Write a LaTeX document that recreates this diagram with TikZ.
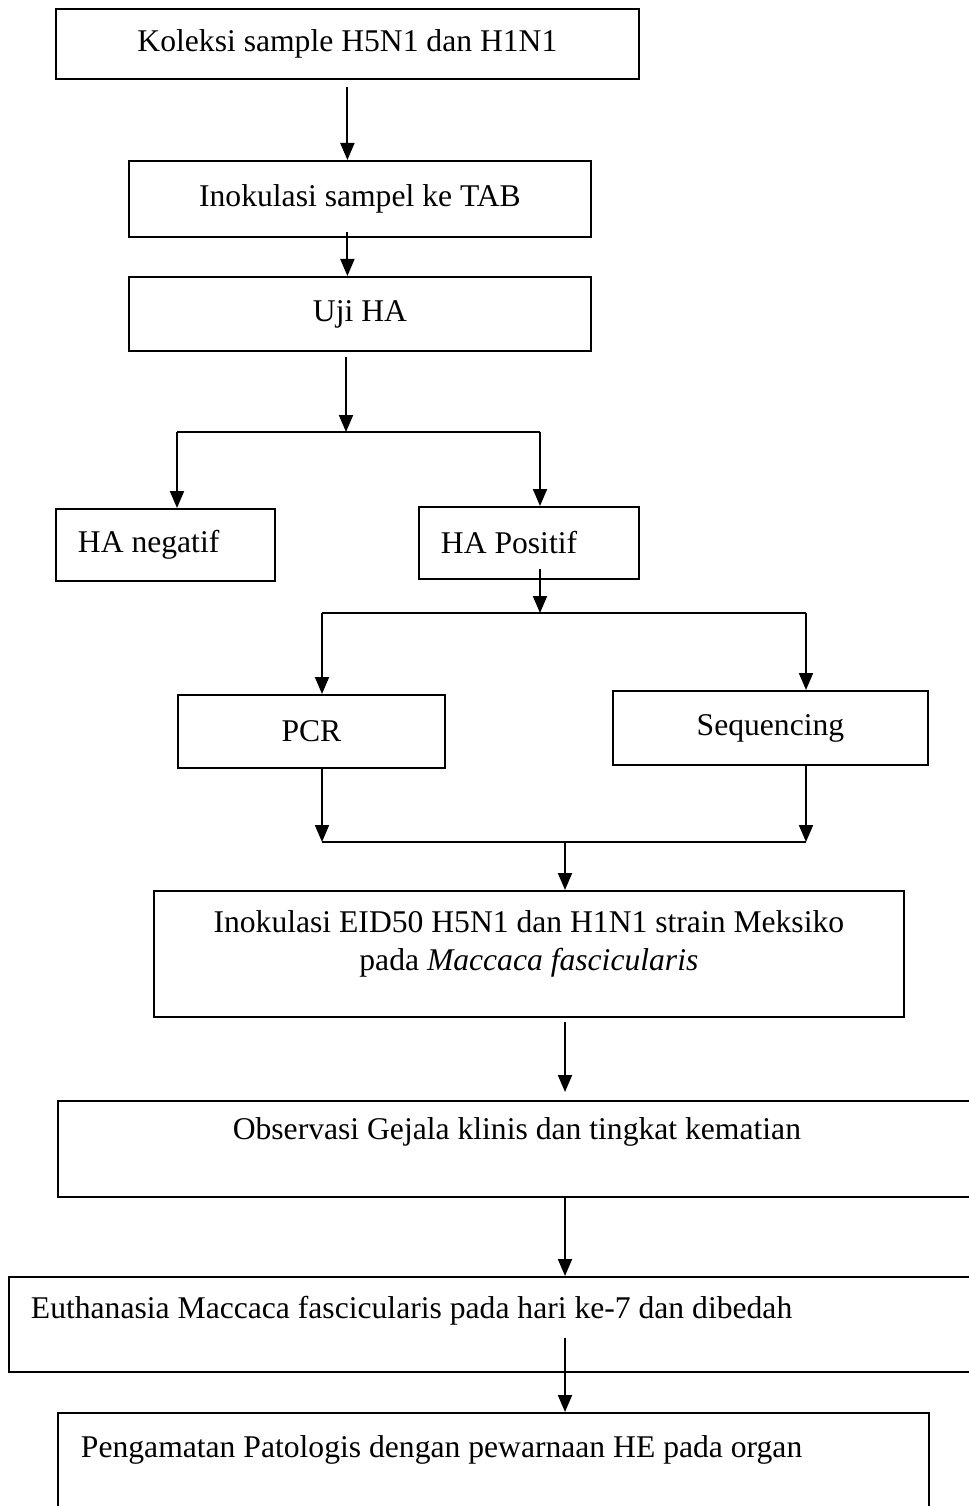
\documentclass[tikz,border=0pt]{standalone}
\usepackage{fontspec}
\setmainfont{Liberation Serif}
\usetikzlibrary{arrows.meta}
\begin{document}
\begin{tikzpicture}[
  x=0.02cm, y=-0.02cm,
  block/.style={rectangle, draw, line width=1.1pt, anchor=north west, inner sep=0pt, font=\fontsize{18}{21.6}\selectfont},
  >={Triangle[length=0.34cm, width=0.28cm]},
  line width=1.1pt
]
\useasboundingbox (0,0) rectangle (969,1506);

\node[block, minimum width=11.66cm, minimum height=1.4cm] (koleksi) at (55,8) {Koleksi sample H5N1 dan H1N1};
\node[block, minimum width=9.24cm, minimum height=1.52cm] (tab) at (128,160) {Inokulasi sampel ke TAB};
\node[block, minimum width=9.24cm, minimum height=1.48cm] (uji) at (128,276) {Uji HA};
\node[block, minimum width=4.38cm, minimum height=1.44cm, inner xsep=0.44cm, text width=3.5cm, align=flush left] (neg) at (55,508) {HA negatif};
\node[block, minimum width=4.4cm, minimum height=1.44cm, inner xsep=0.44cm, text width=3.52cm, align=flush left] (pos) at (418,506) {HA Positif};
\node[block, minimum width=5.34cm, minimum height=1.46cm] (pcr) at (177,694) {PCR};
\node[block, minimum width=6.3cm, minimum height=1.48cm] (seq) at (612,690) {Sequencing};
\node[block, text width=15cm, align=flush center, text height=0.84cm, text depth=1.68cm] (eid) at (153,890) {Inokulasi EID50 H5N1 dan H1N1 strain Meksiko\\pada \textit{Maccaca fascicularis}};
\node[block, text width=18.36cm, align=flush center, text height=0.78cm, text depth=1.14cm] (obs) at (57,1100) {Observasi Gejala klinis dan tingkat kematian};
\node[block, inner xsep=0.44cm, text width=18.72cm, align=flush left, text height=0.84cm, text depth=1.06cm] (eut) at (8,1276) {Euthanasia Maccaca fascicularis pada hari ke-7 dan dibedah};
\node[block, inner xsep=0.46cm, text width=16.5cm, align=flush left, text height=0.9cm, text depth=1.46cm] (peng) at (57,1412) {Pengamatan Patologis dengan pewarnaan HE pada organ};

% Branch points
\coordinate (s1) at (346,432);
\coordinate (s1l) at (177,432);
\coordinate (s1r) at (540,432);
\coordinate (s2) at (540,613);
\coordinate (s2l) at (322,613);
\coordinate (s2r) at (806,613);
\coordinate (j1l) at (322,842);
\coordinate (j1r) at (806,842);
\coordinate (j1) at (565,842);

% Arrows
\draw[->, shorten <=0.14cm] (koleksi.south) -- (koleksi.south |- tab.north);
\draw[->] ([yshift=0.12cm]koleksi.south |- tab.south) -- (koleksi.south |- uji.north);
\draw[->, shorten <=0.1cm] (s1 |- uji.south) -- (s1);
\draw (s1l) -- (s1r);
\draw[->] (s1l) -- (s1l |- neg.north);
\draw[->] (s1r) -- (s1r |- pos.north);
\draw[->] ([yshift=0.22cm]s2 |- pos.south) -- (s2);
\draw (s2l) -- (s2r);
\draw[->] (s2l) -- (s2l |- pcr.north);
\draw[->] (s2r) -- (s2r |- seq.north);
\draw[->] (j1l |- pcr.south) -- (j1l);
\draw[->] (j1r |- seq.south) -- (j1r);
\draw (j1l) -- (j1r);
\draw[->] (j1) -- (j1 |- eid.north);
\draw[->, shorten <=0.08cm, shorten >=0.16cm] (j1 |- eid.south) -- (j1 |- obs.north);
\draw[->] (j1 |- obs.south) -- (j1 |- eut.north);
\draw[->] ([yshift=0.7cm]j1 |- eut.south) -- (j1 |- peng.north);

\end{tikzpicture}
\end{document}
